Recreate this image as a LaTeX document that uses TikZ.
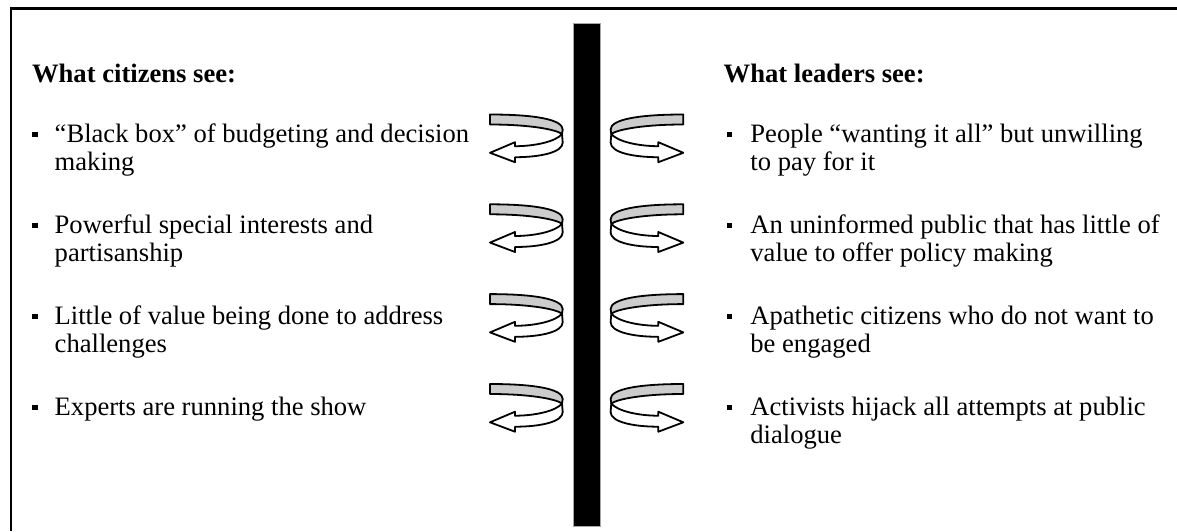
\documentclass[tikz,border=0pt]{standalone}
\usepackage{fontspec}
\setmainfont{Liberation Serif}
\definecolor{band}{RGB}{204,204,204}
\tikzset{
  txt/.style={inner sep=0pt, anchor=base west, font=\fontsize{13.3pt}{15pt}\selectfont},
  hd/.style={inner sep=0pt, anchor=base west, font=\fontsize{13.3pt}{15pt}\selectfont\bfseries},
  bul/.style={fill=black, inner sep=0pt, minimum size=2.7pt},
  frameline/.style={line width=1.35pt, black},
  barbox/.style={draw=gray!70, line width=0.4pt, fill=black, inner sep=0pt, minimum width=13.35pt, minimum height=251.7pt},
  curlline/.style={draw=black, line width=0.9pt, line join=round},
  pics/curl/.style={code={
    \draw[curlline, fill=band] (0,0) .. controls (45,0) and (72.7,5) .. (72.7,15)
      -- (72,19.5) .. controls (66,15) and (40,10) .. (0,10) -- cycle;
    \draw[curlline, fill=white] (72,19.5) .. controls (66,27) and (45,31.7) .. (25,31.7)
      -- (25,27.7) -- (0,38.3) -- (25,47.7) -- (25,42.7)
      .. controls (50,42.7) and (72.7,38) .. (72.7,28) -- cycle;
  }}
}
\begin{document}
\begin{tikzpicture}[x=0.5pt,y=-0.5pt]
\useasboundingbox (0,0) rectangle (1177,531);
% frame (top and left edges)
\draw[frameline] (11,531) -- (11,8.3) -- (1177,8.3);
% central bar
\node[barbox] (bar) at (586.65,275) {};
% headings
\node[hd] (lh) at (31.7,82.3) {What citizens see:};
\node[hd] (rh) at (723.3,82.5) {What leaders see:};
% left items
\node[bul] (lb1) at (35,134.5) {};
\node[txt] (l1a) at (54.3,142.7) {“Black box” of budgeting and decision};
\node[txt] (l1b) at (54.3,170.7) {making};
\node[bul] (lb2) at (35,225.5) {};
\node[txt] (l2a) at (54.3,233.7) {Powerful special interests and};
\node[txt] (l2b) at (54.3,261.7) {partisanship};
\node[bul] (lb3) at (35,316.5) {};
\node[txt] (l3a) at (54.3,324.7) {Little of value being done to address};
\node[txt] (l3b) at (54.3,352.7) {challenges};
\node[bul] (lb4) at (35,407.5) {};
\node[txt] (l4a) at (54.3,415.7) {Experts are running the show};
% right items
\node[bul] (rb1) at (729.2,134.5) {};
\node[txt] (r1a) at (750,142.7) {People “wanting it all” but unwilling};
\node[txt] (r1b) at (750,170.7) {to pay for it};
\node[bul] (rb2) at (729.2,225.5) {};
\node[txt] (r2a) at (750,233.7) {An uninformed public that has little of};
\node[txt] (r2b) at (750,261.7) {value to offer policy making};
\node[bul] (rb3) at (729.2,316.5) {};
\node[txt] (r3a) at (750,324.7) {Apathetic citizens who do not want to};
\node[txt] (r3b) at (750,352.7) {be engaged};
\node[bul] (rb4) at (729.2,407.5) {};
\node[txt] (r4a) at (750,415.7) {Activists hijack all attempts at public};
\node[txt] (r4b) at (750,443.7) {dialogue};
% curved arrows
\foreach \t in {114.5,204.3,294.1,384} {
  \pic at (490,\t) {curl};
  \pic[xscale=-1] at (683.3,\t) {curl};
}
\end{tikzpicture}
\end{document}
